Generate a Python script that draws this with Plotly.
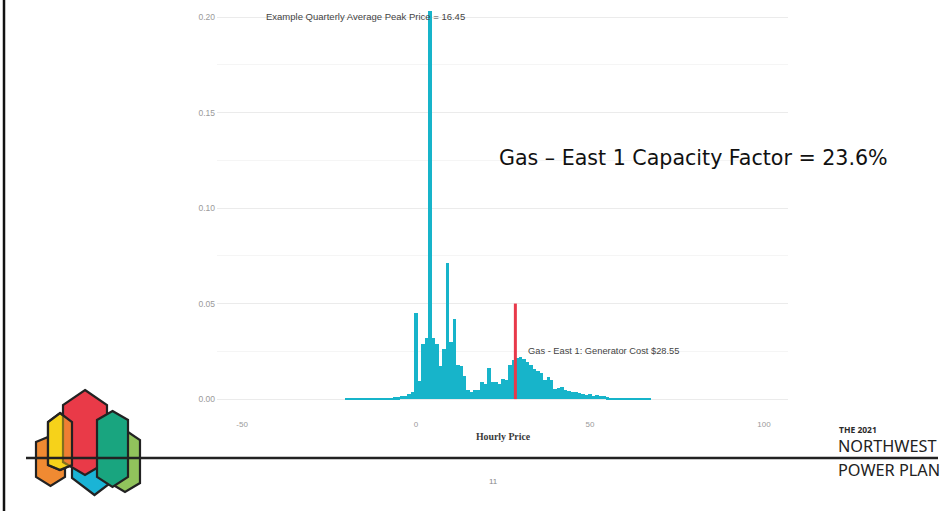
import plotly.graph_objects as go

# ---------------- data ----------------
price_bins = list(range(-20, 68))  # bin centres, width 1 ($/MWh)
density = [
    0.0003, 0.0003, 0.0003, 0.0003, 0.0003, 0.0003, 0.0003, 0.0003, 0.0003, 0.0003,  # -20..-11
    0.0003, 0.0001, 0.0008, 0.0008, 0.0009, 0.0010, 0.0014, 0.0015, 0.0026, 0.0035,  # -10..-1
    0.0450, 0.0096, 0.0290, 0.0320, 0.2030, 0.0320, 0.0290, 0.0175, 0.0260, 0.0710,  # 0..9
    0.0300, 0.0420, 0.0180, 0.0175, 0.0120, 0.0050, 0.0035, 0.0045, 0.0050, 0.0087,  # 10..19
    0.0078, 0.0165, 0.0090, 0.0090, 0.0078, 0.0105, 0.0102, 0.0180, 0.0205, 0.0215,  # 20..29
    0.0220, 0.0210, 0.0196, 0.0180, 0.0160, 0.0149, 0.0139, 0.0100, 0.0118, 0.0100,  # 30..39
    0.0051, 0.0056, 0.0065, 0.0047, 0.0042, 0.0039, 0.0035, 0.0030, 0.0025, 0.0021,  # 40..49
    0.0025, 0.0018, 0.0019, 0.0016, 0.0017, 0.0009, 0.0006, 0.0006, 0.0006, 0.0007,  # 50..59
    0.0004, 0.0004, 0.0005, 0.0002, 0.0002, 0.0002, 0.0002, 0.0002,                  # 60..67
]
x_tick_vals = [-50, 0, 50, 100]
x_tick_text = ["-50", "0", "50", "100"]
y_tick_vals = [0.00, 0.05, 0.10, 0.15, 0.20]
y_tick_text = ["0.00", "0.05", "0.10", "0.15", "0.20"]
y_minor_vals = [0.025, 0.075, 0.125, 0.175]
generator_cost = 28.55
generator_line_y = [0.0, 0.05]
avg_peak_price = 16.45
capacity_factor = 23.6

W, H = 951, 511


def PX(x):
    return x / W


def PY(y):
    return 1 - y / H


def hexpath(x0, x1, ytop, ysh, ylow, ybot):
    xc = (x0 + x1) / 2
    pts = [(xc, ytop), (x1, ysh), (x1, ylow), (xc, ybot), (x0, ylow), (x0, ysh)]
    return "M " + " L ".join(f"{PX(a):.5f},{PY(b):.5f}" for a, b in pts) + " Z"


fig = go.Figure()
fig.add_trace(go.Bar(
    x=price_bins, y=density, width=1,
    marker=dict(color="#17b4ca", line=dict(width=0)),
    hoverinfo="x+y", showlegend=False,
))
fig.add_trace(go.Scatter(
    x=[generator_cost, generator_cost], y=generator_line_y, mode="lines",
    line=dict(color="#e8394a", width=3), showlegend=False, hoverinfo="skip",
))

shapes = []
# slide frame / rules
shapes.append(dict(type="line", xref="paper", yref="paper", x0=PX(4), x1=PX(4), y0=0, y1=1,
                   line=dict(color="#111111", width=2.5)))
# logo hexagons
logo = [
    ("#f08a32", (36, 65, 436, 442, 477, 486)),
    ("#f6d21a", (48, 72, 413, 422, 465, 470)),
    ("#1ab4d6", (72, 117, 420, 435, 478, 495)),
    ("#e93a48", (63, 107, 390, 405, 462, 475)),
    ("rgba(246,210,26,0.45)", (48, 72, 413, 422, 465, 470)),
    ("#91c35c", (110, 140, 430, 440, 483, 492)),
    ("#19a57f", (97, 128, 411, 420, 477, 487)),
]
for col, dims in logo:
    shapes.append(dict(type="path", xref="paper", yref="paper", path=hexpath(*dims),
                       fillcolor=col, line=dict(color="#222222", width=2.2), layer="above"))
shapes.append(dict(type="line", xref="paper", yref="paper", x0=PX(26), x1=PX(938), y0=PY(458), y1=PY(458),
                   line=dict(color="#222222", width=2.5), layer="above"))

annotations = [
    dict(text=f"Example Quarterly Average Peak Price = {avg_peak_price:.2f}", xref="paper", yref="paper",
         x=PX(365), y=PY(17), xanchor="center", yanchor="middle", showarrow=False,
         font=dict(family="Liberation Sans", size=9.5, color="#444444")),
    dict(text=f"Gas - East 1: Generator Cost ${generator_cost:.2f}", xref="paper", yref="paper",
         x=PX(526), y=PY(351), xanchor="left", yanchor="middle", showarrow=False,
         font=dict(family="Liberation Sans", size=9.3, color="#444444")),
    dict(text=f"Gas – East 1 Capacity Factor = {capacity_factor}%", xref="paper", yref="paper",
         x=PX(497), y=PY(158), xanchor="left", yanchor="middle", showarrow=False,
         font=dict(family="DejaVu Sans", size=20.6, color="#111111")),
    dict(text="<b>Hourly Price</b>", xref="paper", yref="paper",
         x=PX(503), y=PY(436), xanchor="center", yanchor="middle", showarrow=False,
         font=dict(family="Liberation Serif", size=9.8, color="#3a3a3a")),
    dict(text="<b>THE 2021</b>", xref="paper", yref="paper",
         x=PX(837), y=PY(429), xanchor="left", yanchor="middle", showarrow=False,
         font=dict(family="Noto Sans", size=8.5, color="#2a2a2a")),
    dict(text="NORTHWEST", xref="paper", yref="paper",
         x=PX(836), y=PY(446), xanchor="left", yanchor="middle", showarrow=False,
         font=dict(family="Noto Sans", size=16.3, color="#222222")),
    dict(text="POWER PLAN", xref="paper", yref="paper",
         x=PX(836), y=PY(470), xanchor="left", yanchor="middle", showarrow=False,
         font=dict(family="Noto Sans", size=16.3, color="#222222")),
    dict(text="11", xref="paper", yref="paper",
         x=PX(493), y=PY(481), xanchor="center", yanchor="middle", showarrow=False,
         font=dict(family="Liberation Sans", size=8, color="#888888")),
]

fig.update_layout(
    width=W, height=H,
    margin=dict(l=0, r=0, t=0, b=0),
    paper_bgcolor="white", plot_bgcolor="white",
    bargap=0, showlegend=False,
    shapes=shapes, annotations=annotations,
    xaxis=dict(domain=[PX(217), PX(788)], range=[-57.2, 106.9],
               tickvals=x_tick_vals, ticktext=x_tick_text,
               showgrid=False, zeroline=False, showline=False, ticks="",
               tickfont=dict(family="Liberation Sans", size=8, color="#9a9a9a")),
    yaxis=dict(domain=[1 - 418 / H, 1], range=[-0.0099, 0.2089],
               tickvals=y_tick_vals, ticktext=y_tick_text,
               showgrid=True, gridcolor="#ebebeb", gridwidth=1,
               minor=dict(tickvals=y_minor_vals, showgrid=True, gridcolor="#f5f5f5", ticks=""),
               zeroline=False, showline=False, ticks="", ticklabelstandoff=1,
               tickfont=dict(family="Liberation Sans", size=8.5, color="#9a9a9a")),
)

fig.write_html("out.html", config={"displayModeBar": False},
               post_script="document.body.style.margin='0';document.body.style.overflow='hidden';")
